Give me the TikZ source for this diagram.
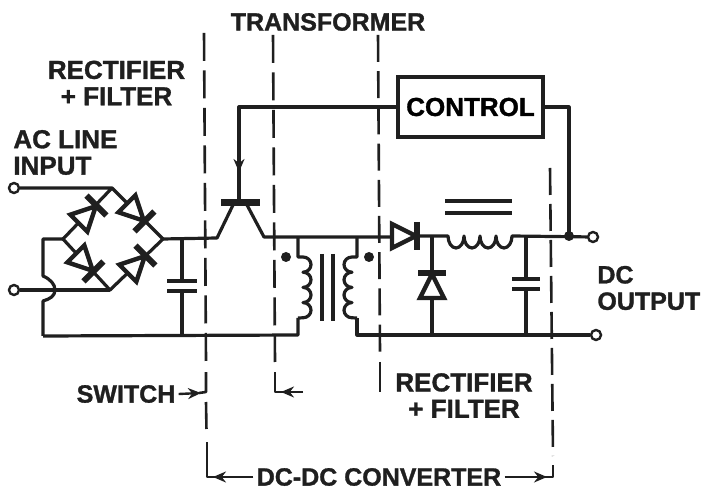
\documentclass[tikz,border=0pt]{standalone}
\usepackage{fontspec}
\setmainfont{Liberation Sans}[BoldFeatures={FakeBold=1.2}]
\usetikzlibrary{arrows.meta}
\tikzstyle{wire} = [line width=1.6pt, line join=round, black!88]
\tikzstyle{arrow} = [line width=1.2pt, -{Stealth[length=6.5pt,width=5.5pt]}, black!88]
\tikzstyle{stub} = [line width=1.3pt, black!88, line join=round]
\tikzstyle{boundary} = [line width=1.3pt, black!88, dash pattern=on 13.5pt off 4.5pt]
\tikzstyle{longboundary} = [boundary, dash pattern=on 14pt off 4.75pt]
\tikzstyle{term} = [circle, draw=black!88, line width=1.2pt, fill=white, inner sep=0pt, minimum size=5pt]
\tikzstyle{junction} = [circle, fill=black!88, inner sep=0pt, minimum size=5pt]
\tikzstyle{labeltext} = [font=\bfseries\fontsize{12.5}{13.2}\selectfont, black!88, inner sep=0pt, align=center]
\tikzstyle{widetext} = [labeltext, font=\bfseries\fontsize{13}{13.2}\selectfont]
\tikzstyle{plate} = [line width=2pt, black!88]
\newcommand{\diode}[3]{% position, rotation, name
  \begin{scope}[shift={#1}, rotate=#2]
    \coordinate (#3a) at (-13,0);
    \coordinate (#3k) at (13,0);
    \draw[line width=2.2pt, black!88, fill=white, line join=miter] (-13,-12) -- (-13,12) -- (11,0) -- cycle;
    \draw[line width=3pt, black!88] (12,-14) -- (12,14);
  \end{scope}}
\begin{document}
\begin{tikzpicture}[x=0.5pt, y=-0.5pt]
\useasboundingbox (0,0) rectangle (704,490);

% Labels
\node[labeltext] (transformer) at (328,22) {TRANSFORMER};
\node[widetext] (rect1) at (116.5,83) {RECTIFIER\\+ FILTER};
\node[widetext, align=left, anchor=west] (acline) at (13,152.5) {AC LINE\\INPUT};
\node[labeltext, align=left, anchor=west] (dcout) at (597,288) {DC\\OUTPUT};
\node[widetext] (rect2) at (464,395.5) {RECTIFIER\\+ FILTER};
\node[labeltext] (switch) at (126,394) {SWITCH};
\node[labeltext] (dcdc) at (379,477) {DC-DC CONVERTER};
\node[draw=black!88, line width=1.8pt, minimum width=72.5pt, minimum height=30pt, inner sep=0pt] (control) at (470.5,107) {\bfseries\fontsize{13}{15}\selectfont CONTROL};

% Boundaries
\draw[longboundary] (204,33) -- (206,361);
\draw[boundary] (206,402) -- (206.5,431);
\draw[longboundary] (273,35) -- (275,362);
\draw[boundary, dash pattern=on 13.5pt off 4.6pt] (378,35) -- (380,353);
\draw[line width=1.3pt, black!88] (380,362) -- (380,392);
\draw[boundary] (550,168) -- (553,456);

% Terminals
\node[term] (acA) at (14,188) {};
\node[term] (acB) at (14,290) {};
\node[term] (dcA) at (593,237) {};
\node[term] (dcB) at (596,335) {};
\coordinate (brT) at (112,188);
\coordinate (brL) at (63,239);
\coordinate (brR) at (163,239);
\coordinate (brB) at (110,290);
\coordinate (capA) at (182,239);
\coordinate (emL) at (217,238);
\coordinate (emR) at (264,237);
\coordinate (base) at (239,203);
\coordinate (retL) at (43,336);
\coordinate (fbk) at (569,236);

% Bridge
\draw[wire] (acA) -- (brT) -- (brR) -- (brB) -- (brL) -- (brT);
\draw[wire] (acB) -- (brB);
\draw[wire] (brL) -- (43,239) -- (43,276) .. controls (50,279) and (55,284) .. (55,290) .. controls (55,296) and (50,299) .. (43,301) -- (retL);
\diode{(88,214)}{45}{dTL}
\diode{(136,213)}{-45}{dTR}
\diode{(85,263)}{-45}{dBL}
\diode{(137,264)}{45}{dBR}

% Capacitors
\draw[wire] (capA) -- (182,281) (182,291) -- (182,336);
\draw[plate] (167,281) -- (197,281) (167,291) -- (197,291);
\draw[wire] (526,237) -- (526,279) (526,289) -- (526,335);
\draw[plate] (512,279) -- (540,279) (512,289) -- (540,289);

% Main lines
\draw[wire] (brR) -- (emL) -- (233,205) (247,205) -- (emR) -- (392,237);
\draw[wire] (retL) -- (298,335) -- (298,318);
\draw[wire] (357,318) -- (357,335) -- (dcB);

% Transistor
\draw[line width=3.5pt, black!88] (221,203) -- (260,203);
\draw[wire] (control.west) -- (239,107) -- (base);
\draw[arrow] (239,150) -- (239,172);

% Transformer
\draw[wire] (298,237) -- (298,257) -- ++(5,0)
  arc (-90:90:8 and 7.6) arc (-90:90:8 and 7.6) arc (-90:90:8 and 7.6) arc (-90:90:8 and 7.6) -- (298,318);
\draw[wire] (357,237) -- (357,257) -- ++(-5,0)
  arc (270:90:8 and 7.6) arc (270:90:8 and 7.6) arc (270:90:8 and 7.6) arc (270:90:8 and 7.6) -- (357,318);
\draw[line width=1.8pt, black!88] (322,254) -- (322,321) (333,254) -- (333,321);
\node[junction] (dotP) at (286,257) {};
\node[junction] (dotS) at (369,257) {};

% Output rectifier
\diode{(405,236)}{0}{dS}
\diode{(432,285)}{90}{dF}
\draw[wire] (dSk) -- (448,236) arc (180:0:8 and 12) arc (180:0:8 and 12) arc (180:0:8 and 12) arc (180:0:8 and 12) -- (dcA);
\draw[wire] (432,236) -- (dFk) (dFa) -- (432,335);
\draw[line width=1.6pt, black!88] (445,201) -- (512,201) (445,213) -- (512,213);

% Feedback
\draw[wire] (control.east) -- (569,107) -- (fbk);
\node[junction] (dotF) at (fbk) {};

% Callouts
\draw[arrow] (switch.east) ++(3,0) -- (201,393);
\draw[stub] (206,372) -- (206,392) -- (199,393);
\draw[arrow] (303,392) -- (281,392);
\draw[stub] (275,372) -- (275,392) -- (283,392);
\draw[arrow] (dcdc.west) ++(-3,0) -- (213,477);
\draw[stub] (207,442) -- (207,477) -- (215,477);
\draw[arrow] (dcdc.east) ++(3,0) -- (547,477);
\draw[stub] (553,465) -- (553,477) -- (545,477);
\end{tikzpicture}
\end{document}
